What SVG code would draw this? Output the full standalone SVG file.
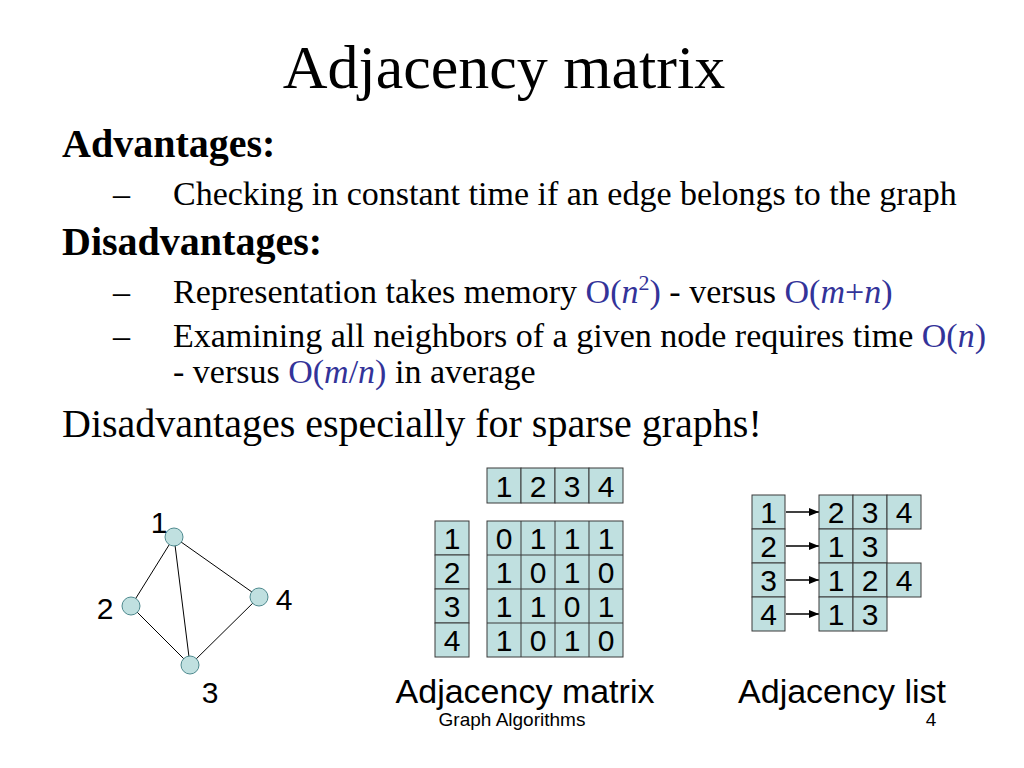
<svg xmlns="http://www.w3.org/2000/svg" width="1024" height="768" viewBox="0 0 1024 768">
<style>
.serif{font-family:"Liberation Serif","Times New Roman",serif;fill:#000}
.sans{font-family:"Liberation Sans",Arial,sans-serif;fill:#000}
.b{font-weight:bold}
.blue{fill:#333399}
.cell{fill:#c0e0e0;stroke:#3a3a3a;stroke-width:1}
.node{fill:#c0e0e0;stroke:#4f8a8f;stroke-width:1}
.edge{stroke:#000;stroke-width:1;fill:none}
.arr{stroke:#000;stroke-width:1.5;fill:none;marker-end:url(#ah)}
.d{font-family:"Liberation Sans",Arial,sans-serif;font-size:30px;text-anchor:middle;fill:#000}
</style>
<defs>
<marker id="ah" markerWidth="10" markerHeight="8" refX="10" refY="4" orient="auto" markerUnits="userSpaceOnUse">
<path d="M0,0 L10,4 L0,8 z" fill="#000"/>
</marker>
</defs>
<rect width="1024" height="768" fill="#fff"/>

<g id="text">
<text class="serif" x="504" y="88" font-size="62" text-anchor="middle">Adjacency matrix</text>
<text class="serif b" x="62" y="157" font-size="40">Advantages:</text>
<text class="serif" x="113" y="205" font-size="34">–</text>
<text class="serif" x="173" y="205" font-size="34">Checking in constant time if an edge belongs to the graph</text>
<text class="serif b" x="62" y="255" font-size="40">Disadvantages:</text>
<text class="serif" x="113" y="303" font-size="34">–</text>
<text class="serif" x="173" y="303" font-size="34">Representation takes memory <tspan class="blue">O(<tspan font-style="italic">n</tspan><tspan font-size="22" dy="-13">2</tspan><tspan dy="13">)</tspan></tspan> - versus <tspan class="blue">O(<tspan font-style="italic">m</tspan>+<tspan font-style="italic">n</tspan>)</tspan></text>
<text class="serif" x="113" y="347" font-size="34">–</text>
<text class="serif" x="173" y="347" font-size="34">Examining all neighbors of a given node requires time <tspan class="blue">O(<tspan font-style="italic">n</tspan>)</tspan></text>
<text class="serif" x="173" y="383" font-size="34">- versus <tspan class="blue">O(<tspan font-style="italic">m</tspan>/<tspan font-style="italic">n</tspan>)</tspan> in average</text>
<text class="serif" x="62" y="437" font-size="40">Disadvantages especially for sparse graphs!</text>
</g>

<g id="connectors">
<line class="edge" x1="174" y1="537" x2="131" y2="606"/>
<line class="edge" x1="174" y1="537" x2="190" y2="665"/>
<line class="edge" x1="174" y1="537" x2="259" y2="597"/>
<line class="edge" x1="131" y1="606" x2="190" y2="665"/>
<line class="edge" x1="259" y1="597" x2="190" y2="665"/>
<line class="arr" x1="786" y1="512" x2="819" y2="512"/>
<line class="arr" x1="786" y1="546" x2="819" y2="546"/>
<line class="arr" x1="786" y1="580" x2="819" y2="580"/>
<line class="arr" x1="786" y1="614" x2="819" y2="614"/>
</g>

<g id="node-1"><circle class="node" cx="174" cy="537" r="9"/><text class="d" x="159" y="533">1</text></g>
<g id="node-2"><circle class="node" cx="131" cy="606" r="9"/><text class="d" x="105" y="619">2</text></g>
<g id="node-3"><circle class="node" cx="190" cy="665" r="9"/><text class="d" x="210" y="703">3</text></g>
<g id="node-4"><circle class="node" cx="259" cy="597" r="9"/><text class="d" x="284" y="610">4</text></g>

<g id="matrix-header">
<rect class="cell" x="487" y="468" width="34" height="35"/><rect class="cell" x="521" y="468" width="34" height="35"/><rect class="cell" x="555" y="468" width="34" height="35"/><rect class="cell" x="589" y="468" width="34" height="35"/>
<text class="d" x="504" y="497">1</text><text class="d" x="538" y="497">2</text><text class="d" x="572" y="497">3</text><text class="d" x="606" y="497">4</text>
</g>

<g id="matrix-rows">
<rect class="cell" x="435" y="521" width="34" height="34"/><rect class="cell" x="435" y="555" width="34" height="34"/><rect class="cell" x="435" y="589" width="34" height="34"/><rect class="cell" x="435" y="623" width="34" height="34"/>
<text class="d" x="452" y="549">1</text><text class="d" x="452" y="583">2</text><text class="d" x="452" y="617">3</text><text class="d" x="452" y="651">4</text>
</g>

<g id="matrix">
<rect class="cell" x="487" y="521" width="136" height="136"/>
<path d="M521,521V657M555,521V657M589,521V657M487,555H623M487,589H623M487,623H623" stroke="#3a3a3a" stroke-width="1" fill="none"/>
<text class="d" x="504" y="549">0</text><text class="d" x="538" y="549">1</text><text class="d" x="572" y="549">1</text><text class="d" x="606" y="549">1</text>
<text class="d" x="504" y="583">1</text><text class="d" x="538" y="583">0</text><text class="d" x="572" y="583">1</text><text class="d" x="606" y="583">0</text>
<text class="d" x="504" y="617">1</text><text class="d" x="538" y="617">1</text><text class="d" x="572" y="617">0</text><text class="d" x="606" y="617">1</text>
<text class="d" x="504" y="651">1</text><text class="d" x="538" y="651">0</text><text class="d" x="572" y="651">1</text><text class="d" x="606" y="651">0</text>
</g>

<g id="list-index">
<rect class="cell" x="752" y="495" width="33" height="34"/><rect class="cell" x="752" y="529" width="33" height="34"/><rect class="cell" x="752" y="563" width="33" height="34"/><rect class="cell" x="752" y="597" width="33" height="34"/>
<text class="d" x="768.5" y="523">1</text><text class="d" x="768.5" y="557">2</text><text class="d" x="768.5" y="591">3</text><text class="d" x="768.5" y="625">4</text>
</g>

<g id="list-1">
<rect class="cell" x="819" y="495" width="34" height="34"/><rect class="cell" x="853" y="495" width="34" height="34"/><rect class="cell" x="887" y="495" width="34" height="34"/>
<text class="d" x="836" y="523">2</text><text class="d" x="870" y="523">3</text><text class="d" x="904" y="523">4</text>
</g>
<g id="list-2">
<rect class="cell" x="819" y="529" width="34" height="34"/><rect class="cell" x="853" y="529" width="34" height="34"/>
<text class="d" x="836" y="557">1</text><text class="d" x="870" y="557">3</text>
</g>
<g id="list-3">
<rect class="cell" x="819" y="563" width="34" height="34"/><rect class="cell" x="853" y="563" width="34" height="34"/><rect class="cell" x="887" y="563" width="34" height="34"/>
<text class="d" x="836" y="591">1</text><text class="d" x="870" y="591">2</text><text class="d" x="904" y="591">4</text>
</g>
<g id="list-4">
<rect class="cell" x="819" y="597" width="34" height="34"/><rect class="cell" x="853" y="597" width="34" height="34"/>
<text class="d" x="836" y="625">1</text><text class="d" x="870" y="625">3</text>
</g>

<g id="captions">
<text class="sans" x="525" y="703" font-size="34" text-anchor="middle">Adjacency matrix</text>
<text class="sans" x="842" y="703" font-size="34" text-anchor="middle">Adjacency list</text>
<text class="sans" x="512" y="726" font-size="19" text-anchor="middle">Graph Algorithms</text>
<text class="sans" x="931" y="726" font-size="19" text-anchor="middle">4</text>
</g>
</svg>
